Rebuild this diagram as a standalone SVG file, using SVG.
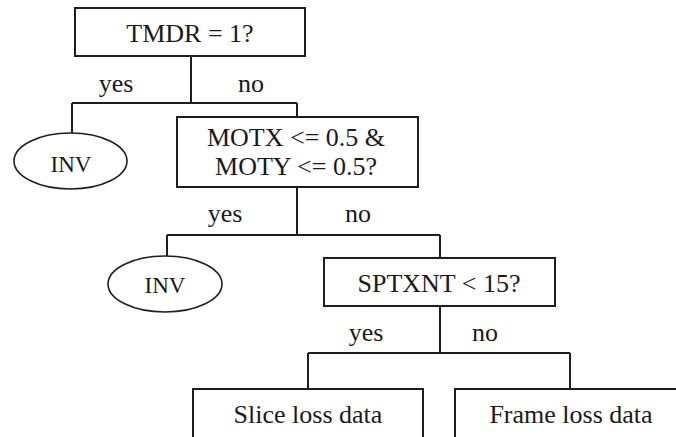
<svg xmlns="http://www.w3.org/2000/svg" width="676" height="437" viewBox="0 0 676 437">
  <style>
    .box { fill: #ffffff; stroke: #1e1e1e; stroke-width: 2; }
    .leaf { fill: #ffffff; stroke: #1e1e1e; stroke-width: 1.6; }
    .wire { fill: none; stroke: #1e1e1e; stroke-width: 2; }
    text { font-family: "Liberation Serif", "Times New Roman", serif; font-size: 26px; fill: #1a1a1a; text-anchor: middle; }
    .small { font-size: 23px; }
  </style>
  <rect width="676" height="437" fill="#ffffff"/>

  <!-- connectors -->
  <g id="connectors">
    <path class="wire" d="M191 56 V103 M72 103 H297 M72 103 V134 M297 103 V117"/>
    <path class="wire" d="M297 187 V235 M167 235 H440 M167 235 V257 M440 235 V258"/>
    <path class="wire" d="M440 306 V353 M308 353 H570 M308 353 V389 M570 353 V389"/>
    <text x="116" y="92">yes</text>
    <text x="251" y="92">no</text>
    <text x="225" y="222">yes</text>
    <text x="358" y="222">no</text>
    <text x="366" y="341">yes</text>
    <text x="485" y="341">no</text>
  </g>

  <g id="tmdr">
    <rect class="box" x="75" y="8" width="230" height="48"/>
    <text x="190" y="42">TMDR = 1?</text>
  </g>

  <g id="inv1">
    <ellipse class="leaf" cx="70.5" cy="161" rx="56.5" ry="28"/>
    <text class="small" x="71" y="172">INV</text>
  </g>

  <g id="motion">
    <rect class="box" x="177" y="117" width="241" height="70"/>
    <text x="296" y="146">MOTX &lt;= 0.5 &amp;</text>
    <text x="296" y="175">MOTY &lt;= 0.5?</text>
  </g>

  <g id="inv2">
    <ellipse class="leaf" cx="165" cy="284" rx="57" ry="28"/>
    <text class="small" x="165" y="293">INV</text>
  </g>

  <g id="sptxnt">
    <rect class="box" x="324" y="258" width="231" height="48"/>
    <text x="439" y="292">SPTXNT &lt; 15?</text>
  </g>

  <g id="slice">
    <rect class="box" x="193" y="389" width="230" height="60"/>
    <text x="308" y="423">Slice loss data</text>
  </g>

  <g id="frame">
    <rect class="box" x="455" y="389" width="230" height="60"/>
    <text x="571" y="423">Frame loss data</text>
  </g>
</svg>
